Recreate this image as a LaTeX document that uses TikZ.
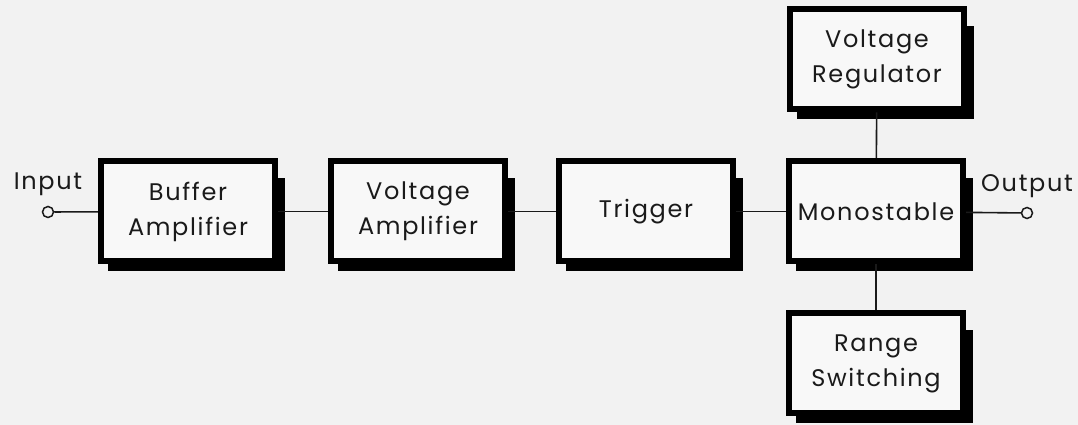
\documentclass[tikz,border=0pt]{standalone}
\usepackage{fontspec}
\setmainfont{Poppins}[LetterSpace=7]
\usetikzlibrary{backgrounds}
\definecolor{bg}{HTML}{F2F2F2}
\definecolor{boxfill}{HTML}{F8F8F8}
\definecolor{ink}{HTML}{1A1A1A}
\tikzset{
  blk/.style={draw=black, line width=6pt, fill=boxfill, minimum width=174pt,
    minimum height=100pt, inner sep=0pt, align=center, text=ink,
    font=\fontsize{24}{35}\selectfont},
  lbl/.style={text=ink, font=\fontsize{24}{28}\selectfont, inner sep=0pt, anchor=base},
  wire/.style={draw=ink, line width=1.6pt},
  term/.style={circle, draw=ink, line width=1.5pt, fill=bg, minimum size=11pt, inner sep=0pt},
  shade/.style={fill=black}
}
\begin{document}
\begin{tikzpicture}[x=1pt,y=1pt]
\useasboundingbox (0,0) rectangle (1078,425);
\node[blk] (B)  at (188,213.5) {Buffer\\Amplifier};
\node[blk] (VA) at (418,213.5) {Voltage\\Amplifier};
\node[blk] (T)  at (646,213.5) {Trigger};
\node[blk] (M)  at (876,213.5) {Monostable};
\node[blk] (VR) at (877,365.5) {Voltage\\Regulator};
\node[blk] (RS) at (876,61.5)  {Range\\Switching};
\node[term] (in)  at (48,213) {};
\node[term] (out) at (1027,212) {};
\node[lbl] (intext)  at (48,235) {Input};
\node[lbl] (outtext) at (1027,233) {Output};
\begin{scope}[on background layer]
  \fill[bg] (0,0) rectangle (1078,425);
  \foreach \n in {B,VA,T,M,VR,RS}{
    \fill[shade] ([xshift=10pt,yshift=-7pt]\n.south west) rectangle ([xshift=7pt,yshift=-20pt]\n.north east);
  }
  \draw[wire] (in) -- (B);
  \draw[wire] (B) -- (VA);
  \draw[wire] (VA) -- (T);
  \draw[wire] (T) -- (M);
  \draw[wire] (M) -- (out);
  \draw[wire] (M) -- (VR);
  \draw[wire] (M) -- (RS);
\end{scope}
\end{tikzpicture}
\end{document}
